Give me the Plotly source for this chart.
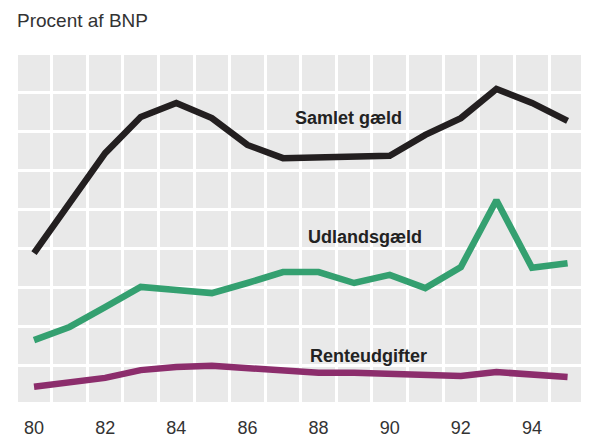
import plotly.graph_objects as go

years = list(range(1980, 1996))
x_vals = [y - 1900 for y in years]
samlet_gaeld = [38.8, 51.7, 64.5, 73.8, 77.4, 73.5, 66.6, 63.2, 63.5, 63.5, 63.8, 69.2, 73.5, 81.0, 77.4, 72.8]
udlandsgaeld = [16.4, 19.8, 24.9, 30.1, 29.3, 28.5, 31.1, 33.9, 33.9, 31.1, 33.2, 29.8, 35.2, 52.4, 35.0, 36.2]
renteudgifter = [4.4, 5.4, 6.7, 8.7, 9.5, 9.8, 9.2, 8.5, 8.0, 8.0, 7.7, 7.7, 7.2, 8.2, 7.7, 6.9]
tick_vals = [80, 82, 84, 86, 88, 90, 92, 94]
tick_text = ["80", "82", "84", "86", "88", "90", "92", "94"]

series = [
    ("Samlet gæld", samlet_gaeld, "#231f20"),
    ("Udlandsgæld", udlandsgaeld, "#34a070"),
    ("Renteudgifter", renteudgifter, "#8c2d6c"),
]

fig = go.Figure()
for name, vals, color in series:
    fig.add_trace(go.Scatter(x=x_vals, y=vals, mode="lines", name=name,
                             line=dict(color=color, width=6.5), hoverinfo="skip"))

label_pos = [("Samlet gæld", 348, 73.5), ("Udlandsgæld", 365, 43.0), ("Renteudgifter", 368, 12.4)]
for text, px, yv in label_pos:
    fig.add_annotation(x=80 + (px - 34) / 35.57, y=yv, text="<b>" + text + "</b>",
                       showarrow=False, xanchor="center", yanchor="middle",
                       font=dict(family="Liberation Sans Narrow, Liberation Sans, Arial", size=18, color="#222222"))

fig.add_annotation(xref="paper", yref="paper", x=-0.005, y=1.0, yshift=32,
                   text="Procent af BNP", showarrow=False, xanchor="left", yanchor="middle",
                   font=dict(family="Liberation Sans Narrow, Liberation Sans, Arial", size=19, color="#333333"))

fig.update_layout(
    width=581, height=429,
    margin=dict(l=10, r=4, t=44, b=35, autoexpand=False),
    paper_bgcolor="white", plot_bgcolor="#e9e9e9",
    showlegend=False,
    xaxis=dict(range=[79.55, 95.49], tickmode="array", tickvals=tick_vals, ticktext=tick_text,
               showgrid=False, zeroline=False, showline=False, ticks="", automargin=False,
               ticklabelstandoff=13,
               tickfont=dict(family="Liberation Sans, Arial", size=18, color="#333333"),
               minor=dict(tickmode="linear", tick0=80.5, dtick=1, showgrid=True,
                          gridcolor="white", gridwidth=3, ticks="")),
    yaxis=dict(range=[0.5, 90.5], tickmode="linear", tick0=0, dtick=10, automargin=False,
               showgrid=True, gridcolor="white", gridwidth=3,
               showticklabels=False, zeroline=False, showline=False, ticks=""),
)

fig.write_html("out.html")
